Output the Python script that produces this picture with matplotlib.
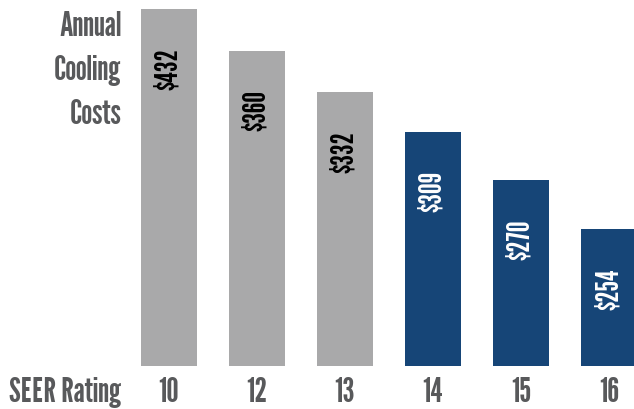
import matplotlib.pyplot as plt

seer = ['10', '12', '13', '14', '15', '16']
costs = ['$432', '$360', '$332', '$309', '$270', '$254']
bar_heights = [357, 315, 274, 234, 186, 137]   # drawn height of each bar (not to scale with cost)
highlight = [False, False, False, True, True, True]

plt.rcParams['font.family'] = ['League Gothic', 'DejaVu Sans']

gray = '#a9a9aa'
blue = '#164577'
txt = '#58595b'

fig = plt.figure(figsize=(6.34, 4.10), dpi=100)
ax = fig.add_axes([0, 0, 1, 1])

x = list(range(len(seer)))
colors = [blue if h else gray for h in highlight]
ax.bar(x, bar_heights, width=0.636, color=colors)

for i in x:
    ax.text(i, bar_heights[i] - 38, costs[i], rotation=90, ha='center', va='top',
            fontsize=22, color='white' if highlight[i] else 'black')

for i in x:
    ax.text(i, -26, seer[i], ha='center', va='center', fontsize=25, color=txt)

ax.text(-0.54, -26, 'SEER Rating', ha='right', va='center', fontsize=25, color=txt)
ax.text(-0.54, 341, 'Annual', ha='right', va='center', fontsize=25, color=txt)
ax.text(-0.54, 297, 'Cooling', ha='right', va='center', fontsize=25, color=txt)
ax.text(-0.54, 253, 'Costs', ha='right', va='center', fontsize=25, color=txt)

ax.set_xlim(-1.920, 5.284)
ax.set_ylim(-43, 367)
ax.axis('off')

fig.savefig('out.png', dpi=100)
